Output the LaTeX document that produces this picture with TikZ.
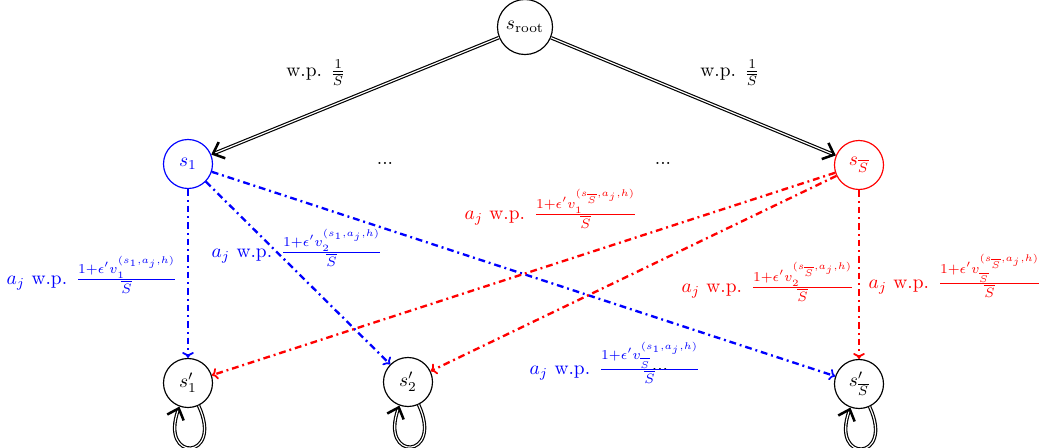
\documentclass[tikz,border=0pt]{standalone}
\usetikzlibrary{arrows.meta}
\begin{document}
\begin{tikzpicture}[x=0.0181cm,y=0.0181cm,
  st/.style={circle,draw,semithick,minimum size=0.887cm,inner sep=0pt},
  dtip/.style={-{Straight Barb[length=5pt,width=9pt,line width=1.3pt]}},
  stip/.style={-{To[length=3pt,width=6pt,line width=0.9pt]}},
  dbl/.style={double,semithick,dtip},
  bedge/.style={blue,very thick,dash pattern=on 3.5pt off 2pt on 1pt off 2pt,stip},
  redge/.style={red,very thick,dash pattern=on 3.5pt off 2pt on 1pt off 2pt,stip},
  bl/.style={text=blue,anchor=center},
  rl/.style={text=red,anchor=center},
  loopst/.style={double,semithick,dtip,loop,out=-65,in=-110,min distance=6.5mm,looseness=8}]
\useasboundingbox (0,0) rectangle (1044,-448);
\node[st,minimum size=0.996cm] (root) at (525,-27) {$s_{\mathrm{root}}$};
\node[st,blue] (s1) at (188,-164) {$s_1$};
\node[st,red] (sS) at (859,-165) {$s_{\overline{S}}$};
\node[st] (s1p) at (188,-383) {$s'_1$};
\node[st] (s2p) at (408,-382) {$s'_2$};
\node[st] (sSp) at (859,-384) {$s'_{\overline{S}}$};
\node (d1) at (385,-163) {...};
\node (d2) at (663,-163) {...};
\node (d3) at (660,-369) {...};
\draw[dbl] (root) -- (s1) node (l1) at (316,-73) {w.p. $\frac{1}{\overline{S}}$};
\draw[dbl] (root) -- (sS) node (l2) at (730,-73) {w.p. $\frac{1}{\overline{S}}$};
\draw[bedge] (s1) -- (s1p) node[bl] (b1) at (92,-275) {$a_j$ w.p. $\frac{1+\epsilon' v_1^{(s_1,a_j,h)}}{\overline{S}}$};
\draw[bedge] (s1) -- (s2p) node[bl] (b2) at (297,-248) {$a_j$ w.p. $\frac{1+\epsilon' v_2^{(s_1,a_j,h)}}{\overline{S}}$};
\draw[bedge] (s1) -- (sSp) node[bl] (b3) at (615,-363) {$a_j$ w.p. $\frac{1+\epsilon' v_{\overline{S}}^{(s_1,a_j,h)}}{\overline{S}}$};
\draw[redge] (sS) -- (s1p) node[rl] (r1) at (551,-209) {$a_j$ w.p. $\frac{1+\epsilon' v_1^{(s_{\overline{S}},a_j,h)}}{\overline{S}}$};
\draw[redge] (sS) -- (s2p) node[rl] (r2) at (768,-282) {$a_j$ w.p. $\frac{1+\epsilon' v_2^{(s_{\overline{S}},a_j,h)}}{\overline{S}}$};
\draw[redge] (sS) -- (sSp) node[rl] (r3) at (955,-276) {$a_j$ w.p. $\frac{1+\epsilon' v_{\overline{S}}^{(s_{\overline{S}},a_j,h)}}{\overline{S}}$};
\path (s1p) edge[loopst] (s1p);
\path (s2p) edge[loopst] (s2p);
\path (sSp) edge[loopst] (sSp);
\end{tikzpicture}
\end{document}
